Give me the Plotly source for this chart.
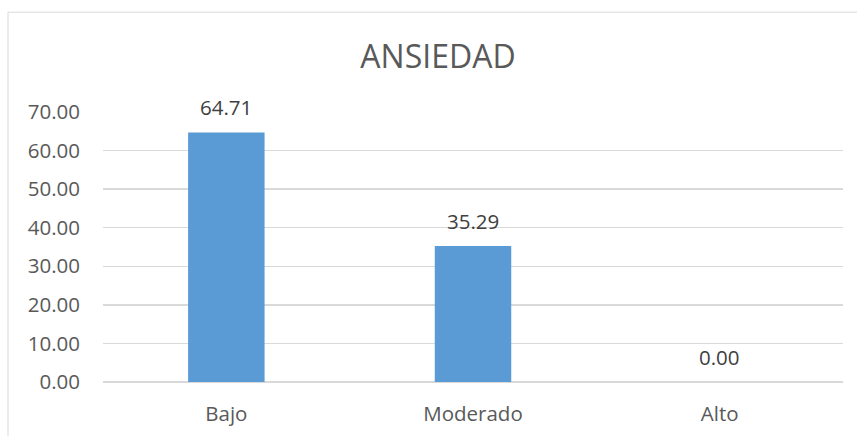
import plotly.graph_objects as go

categories = ["Bajo", "Moderado", "Alto"]
values = [64.71, 35.29, 0.00]
y_ticks = [0, 10, 20, 30, 40, 50, 60, 70]
title_text = "ANSIEDAD"

W, H = 857, 436
L, R, T, B = 103, 14, 112, 53.5

text_color = "#595959"
grid_color = "#D9D9D9"
font_family = "Open Sans"
fs = 20.5

fig = go.Figure()
fig.add_trace(go.Bar(
    x=categories,
    y=values,
    marker=dict(color="#5B9BD5", line=dict(width=0)),
    width=0.31,
    hoverinfo="skip",
))

for c, v in zip(categories, values):
    fig.add_annotation(
        x=c, y=v, xref="x", yref="y",
        text=f"{v:.2f}",
        showarrow=False,
        yanchor="middle",
        yshift=25,
        font=dict(family=font_family, size=fs, color="#404040"),
    )

plot_w = W - L - R
plot_h = H - T - B
fig.add_shape(
    type="rect", xref="paper", yref="paper",
    x0=(8 - L) / plot_w, x1=(W + 20 - L) / plot_w,
    y0=-(B + 20) / plot_h, y1=(H - 12 - B) / plot_h,
    line=dict(color=grid_color, width=1),
    fillcolor="rgba(0,0,0,0)",
    layer="below",
)

fig.update_layout(
    width=W, height=H,
    margin=dict(l=L, r=R, t=T, b=B, pad=0),
    paper_bgcolor="white",
    plot_bgcolor="white",
    showlegend=False,
    bargap=0.69,
    title=dict(
        text=title_text,
        x=(360 + 516) / 2 / W, xanchor="center",
        y=1 - 57 / H, yanchor="middle",
        font=dict(family=font_family, size=32, color=text_color),
        automargin=False,
    ),
    font=dict(family=font_family, color=text_color),
    xaxis=dict(
        automargin=False,
        showgrid=False, showline=False, zeroline=False, ticks="",
        tickfont=dict(family=font_family, size=fs, color=text_color),
        ticklabelstandoff=17,
    ),
    yaxis=dict(
        automargin=False,
        range=[0, 70], tickvals=y_ticks, tickformat=".2f",
        showgrid=True, gridcolor=grid_color, gridwidth=1.3,
        zeroline=True, zerolinecolor=grid_color, zerolinewidth=1.3,
        showline=False, ticks="",
        tickfont=dict(family=font_family, size=fs, color=text_color),
        ticklabelstandoff=22,
    ),
)

fig.write_html(
    "out.html",
    config={"displayModeBar": False, "staticPlot": True},
    post_script="document.body.style.margin='0';document.body.style.overflow='hidden';",
)
